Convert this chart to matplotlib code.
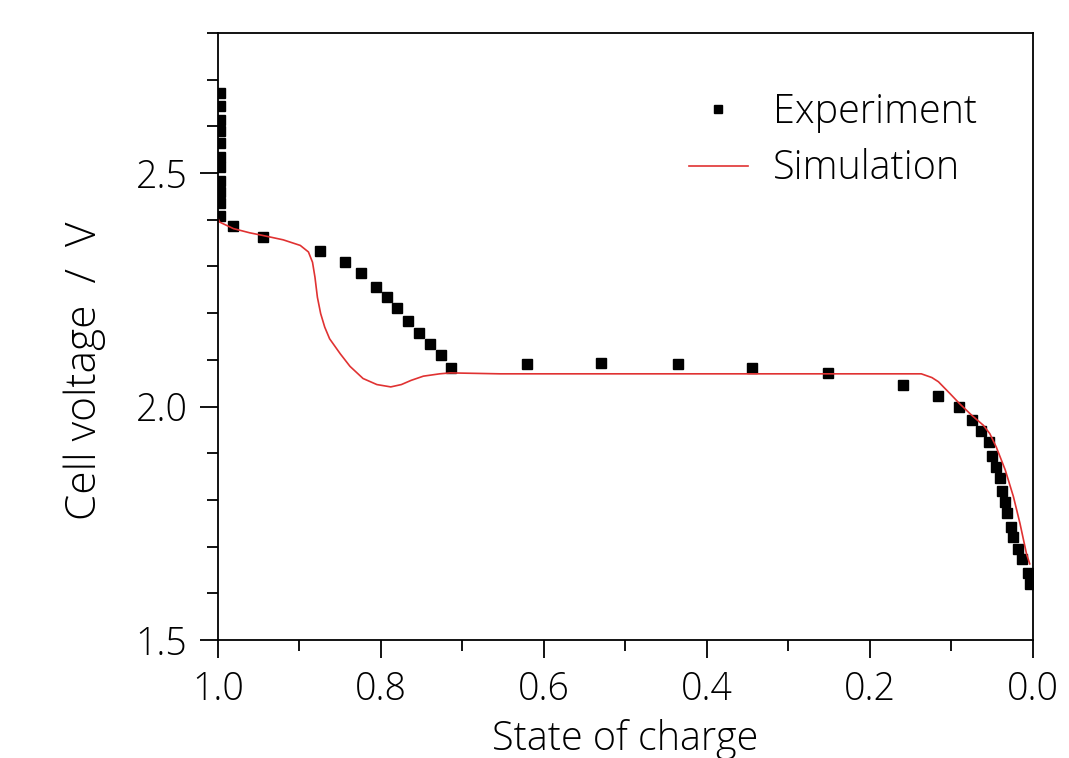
import matplotlib
matplotlib.use("Agg")
import matplotlib.pyplot as plt
from matplotlib.ticker import MultipleLocator

plt.rcParams['font.family'] = ['Open Sans', 'DejaVu Sans']
plt.rcParams['font.weight'] = 300
plt.rcParams['axes.labelweight'] = 300

# experiment points (state of charge, cell voltage)
exp_soc = [0.998, 0.998, 0.998, 0.998, 0.998, 0.998, 0.998, 0.998, 0.998, 0.998, 0.998,
           0.982, 0.945, 0.875, 0.844, 0.825, 0.806, 0.793, 0.780, 0.767, 0.753, 0.740,
           0.726, 0.714, 0.621, 0.530, 0.436, 0.345, 0.252, 0.160, 0.116, 0.091, 0.075,
           0.064, 0.054, 0.050, 0.045, 0.041, 0.038, 0.034, 0.032, 0.027, 0.025, 0.018,
           0.013, 0.006, 0.004]
exp_v = [2.671, 2.643, 2.614, 2.589, 2.564, 2.535, 2.512, 2.484, 2.460, 2.436, 2.408,
         2.386, 2.362, 2.332, 2.309, 2.285, 2.257, 2.234, 2.210, 2.184, 2.158, 2.133,
         2.110, 2.082, 2.090, 2.094, 2.090, 2.082, 2.071, 2.046, 2.022, 1.998, 1.971,
         1.948, 1.923, 1.895, 1.871, 1.847, 1.819, 1.795, 1.772, 1.743, 1.720, 1.695,
         1.673, 1.644, 1.619]

# simulation curve
sim_soc = [1.000, 0.998, 0.981, 0.961, 0.944, 0.920, 0.899, 0.889, 0.884, 0.881,
           0.878, 0.874, 0.869, 0.863, 0.850, 0.838, 0.822, 0.805, 0.788, 0.775,
           0.763, 0.748, 0.728, 0.715, 0.654, 0.400, 0.137, 0.124, 0.116, 0.102,
           0.090, 0.075, 0.061, 0.053, 0.045, 0.034, 0.024, 0.016, 0.008, 0.004]
sim_v = [2.403, 2.395, 2.381, 2.372, 2.366, 2.357, 2.345, 2.331, 2.309, 2.277,
         2.234, 2.199, 2.170, 2.145, 2.113, 2.086, 2.060, 2.047, 2.042, 2.047,
         2.056, 2.065, 2.070, 2.072, 2.070, 2.070, 2.070, 2.062, 2.053, 2.028,
         2.006, 1.981, 1.960, 1.942, 1.913, 1.864, 1.807, 1.750, 1.685, 1.663]

fig = plt.figure(figsize=(10.69, 7.58), dpi=100)
ax = fig.add_axes([0.2039, 0.1557, 0.7624, 0.8008])

ax.plot(exp_soc, exp_v, 's', color='black', markersize=7, label='Experiment')
ax.plot(sim_soc, sim_v, '-', color='#e03232', linewidth=1.2, label='Simulation')

ax.set_xlim(1.0, 0.0)
ax.set_ylim(1.5, 2.8)
ax.xaxis.set_major_locator(MultipleLocator(0.2))
ax.xaxis.set_minor_locator(MultipleLocator(0.1))
ax.yaxis.set_major_locator(MultipleLocator(0.5))
ax.yaxis.set_minor_locator(MultipleLocator(0.1))
ax.tick_params(which='major', direction='out', length=13, width=1.3, labelsize=27, pad=9)
ax.tick_params(which='minor', direction='out', length=8, width=1.3)
for s in ax.spines.values():
    s.set_linewidth(1.3)

ax.set_xlabel('State of charge', fontsize=28.5, labelpad=7)
ax.set_ylabel('Cell voltage  /  V', fontsize=30.5)
ax.yaxis.set_label_coords(-0.137, 0.443)

leg = ax.legend(loc='upper right', bbox_to_anchor=(0.975, 0.962), frameon=False,
                fontsize=28.5, handlelength=1.5, handletextpad=0.63, markerscale=0.9,
                labelspacing=0.4)

fig.savefig('out.png', dpi=100)
